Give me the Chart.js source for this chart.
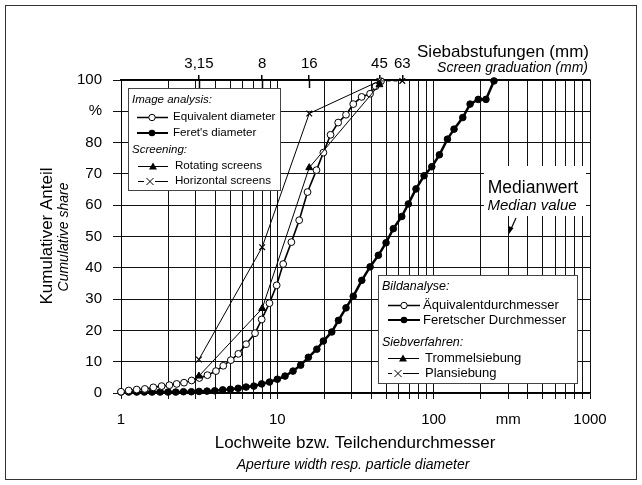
<!DOCTYPE html>
<html>
<head>
<meta charset="utf-8">
<script src="https://cdn.jsdelivr.net/npm/chart.js@4/dist/chart.umd.min.js"></script>
<style>
  body { margin: 0; background: #fff; }
  canvas { display: block; }
</style>
</head>
<body>
<canvas id="chart" width="642" height="485"></canvas>
<script>
// ---- data ----
const feretX = [1, 1.12, 1.26, 1.41, 1.58, 1.78, 2, 2.24, 2.51, 2.82, 3.16, 3.55, 3.98, 4.47, 5.01, 5.62, 6.31, 7.08, 7.94, 8.91,
  10, 11.2, 12.6, 14.1, 15.8, 17.9, 19.7, 22.3, 24.6, 27.5, 30.6, 34.7, 39.2, 44.3, 49.6, 55.2, 62.5, 68.9, 77.1, 86.8,
  97.3, 108.8, 122.5, 135, 153.5, 171, 193, 216, 243];
const feretY = [0.3, 0.3, 0.3, 0.3, 0.3, 0.3, 0.3, 0.3, 0.4, 0.4, 0.5, 0.6, 0.7, 1.0, 1.2, 1.5, 1.9, 2.2, 2.9, 3.5,
  4.4, 5.4, 7.0, 8.9, 11.4, 14.0, 16.6, 19.5, 23.2, 27.2, 30.9, 36, 40.3, 44, 48, 52.5, 56.4, 60.4, 65.2, 69.4,
  72.3, 76.1, 81.1, 84.3, 88, 92.3, 93.8, 93.8, 99.7];

const eqX = [1, 1.12, 1.26, 1.42, 1.61, 1.82, 2.04, 2.27, 2.53, 2.83, 3.17, 3.57, 4.05, 4.51, 5.04, 5.63, 6.31, 7.2, 7.94, 8.9,
  9.9, 10.9, 12.3, 13.8, 15.6, 17.8, 19.7, 21.9, 24.5, 27.5, 30.6, 34.6, 39.2, 42.5, 46];
const eqY = [0.4, 0.8, 1.1, 1.3, 1.8, 2.2, 2.5, 2.9, 3.3, 4.0, 4.8, 5.7, 7.0, 8.7, 10.5, 12.5, 15.6, 19.1, 23.5, 28.7,
  34.4, 41.2, 48.2, 55.2, 64.2, 71.2, 76.8, 82.5, 86.4, 88.9, 92.3, 94.6, 95.6, 98.0, 99.6];

const rotX = [3.15, 8, 16, 45];
const rotY = [5.4, 27, 72, 98.5];

const horX = [3.15, 8, 16, 45, 63];
const horY = [10.7, 46.6, 89.3, 99.7, 99.7];

// axis ticks
const xGrid = [1, 2, 3, 4, 5, 6, 7, 8, 9, 10, 20, 30, 40, 50, 60, 70, 80, 90, 100, 200, 300, 400, 500, 600, 700, 800, 900, 1000];
const xLabels = { 1: '1', 10: '10', 100: '100', 300: 'mm', 1000: '1000' };
const screenSizes = [3.15, 8, 16, 45, 63];
const screenLabels = ['3,15', '8', '16', '45', '63'];
const yGrid = [0, 10, 20, 30, 40, 50, 60, 70, 80, 90, 100];
const yLabels = { 90: '%' };

const FONT = "'Liberation Sans', Arial, sans-serif";
Chart.defaults.font.family = FONT;
Chart.defaults.color = '#000';

function pts(xs, ys) {
    return xs.map((x, i) => ({ x: x, y: ys[i] }));
}

// --------------- markers (used by the legends) -----------------------
function marker(ctx, kind, x, y) {
    ctx.save();
    ctx.strokeStyle = '#000';
    ctx.fillStyle = '#000';
    ctx.lineWidth = 1;
    ctx.beginPath();
    if (kind === 'open') {
        ctx.arc(x, y, 3.2, 0, Math.PI * 2);
        ctx.fillStyle = '#fff';
        ctx.fill();
        ctx.stroke();
    } else if (kind === 'dot') {
        ctx.arc(x, y, 3.3, 0, Math.PI * 2);
        ctx.fill();
    } else if (kind === 'tri') {
        ctx.moveTo(x, y - 4);
        ctx.lineTo(x + 4, y + 3);
        ctx.lineTo(x - 4, y + 3);
        ctx.closePath();
        ctx.fill();
    } else if (kind === 'cross') {
        ctx.moveTo(x - 3.5, y - 3.5); ctx.lineTo(x + 3.5, y + 3.5);
        ctx.moveTo(x + 3.5, y - 3.5); ctx.lineTo(x - 3.5, y + 3.5);
        ctx.stroke();
    }
    ctx.restore();
}

function sample(ctx, x0, x1, y, w, kind, mx) {
    ctx.save();
    ctx.strokeStyle = '#000';
    ctx.lineWidth = w;
    ctx.beginPath();
    if (kind === 'cross') {
        ctx.moveTo(x0, y); ctx.lineTo(mx - 6, y);
        ctx.moveTo(mx + 5, y); ctx.lineTo(x1, y);
    } else {
        ctx.moveTo(x0, y); ctx.lineTo(x1, y);
    }
    ctx.stroke();
    ctx.restore();
    marker(ctx, kind, mx, y);
}

function box(ctx, x, y, w, h, stroke) {
    ctx.save();
    ctx.fillStyle = '#fff';
    ctx.fillRect(x, y, w, h);
    if (stroke) {
        ctx.strokeStyle = '#444';
        ctx.lineWidth = 1;
        ctx.strokeRect(x + 0.5, y + 0.5, w, h);
    }
    ctx.restore();
}

function text(ctx, s, x, y, size, italic, align) {
    ctx.save();
    ctx.font = (italic ? 'italic ' : '') + size + 'px ' + FONT;
    ctx.fillStyle = '#000';
    ctx.textAlign = align || 'left';
    ctx.textBaseline = 'middle';
    ctx.fillText(s, x, y);
    ctx.restore();
}

// --------------- legends, notes, titles -----------------------
const decorations = {
    id: 'decorations',
    beforeDraw(chart) {
        const ctx = chart.ctx;
        ctx.save();
        ctx.fillStyle = '#fff';
        ctx.fillRect(0, 0, chart.width, chart.height);
        ctx.restore();
    },
    beforeDatasetsDraw(chart) {
        const ctx = chart.ctx;

        // screen ticks crossing the top border
        const top = chart.scales.x2;
        ctx.save();
        ctx.strokeStyle = '#000';
        ctx.lineWidth = 1.5;
        ctx.beginPath();
        screenSizes.slice(0, 3).forEach(v => {
            const px = Math.round(top.getPixelForValue(v)) + 0.5;
            ctx.moveTo(px, 80); ctx.lineTo(px, 88);
        });
        ctx.stroke();
        ctx.restore();

        // english legend
        box(ctx, 128, 88, 152, 102, true);
        text(ctx, 'Image analysis:', 132, 100, 11.5, true);
        sample(ctx, 137, 168, 117.5, 1.5, 'open', 152);
        text(ctx, 'Equivalent diameter', 173, 117, 11.6);
        sample(ctx, 137, 168, 133, 2, 'dot', 152);
        text(ctx, "Feret's diameter", 173, 133, 11.6);
        text(ctx, 'Screening:', 132, 150, 11.5, true);
        sample(ctx, 138, 168, 166.5, 1, 'tri', 153);
        text(ctx, 'Rotating screens', 175, 166, 11.6);
        sample(ctx, 138, 168, 181.5, 1, 'cross', 150);
        text(ctx, 'Horizontal screens', 175, 181, 11.6);

        // german legend
        box(ctx, 378, 275, 199, 108, true);
        text(ctx, 'Bildanalyse:', 382, 287, 12.5, true);
        sample(ctx, 388, 420, 305.5, 1.5, 'open', 404);
        text(ctx, '\u00c4quivalentdurchmesser', 423, 305, 13);
        sample(ctx, 388, 420, 320, 2, 'dot', 404);
        text(ctx, 'Feretscher Durchmesser', 423, 320, 13);
        text(ctx, 'Siebverfahren:', 382, 343, 12.5, true);
        sample(ctx, 388, 419, 358.5, 1, 'tri', 403);
        text(ctx, 'Trommelsiebung', 425, 358, 13);
        sample(ctx, 388, 419, 373.5, 1, 'cross', 398);
        text(ctx, 'Plansiebung', 425, 373, 13);

        // median note
        box(ctx, 484, 166, 102, 50, false);
        text(ctx, 'Medianwert', 533, 188, 17.5, false, 'center');
        text(ctx, 'Median value', 532, 206, 15, true, 'center');
        ctx.save();
        ctx.strokeStyle = '#000';
        ctx.fillStyle = '#000';
        ctx.lineWidth = 1.2;
        ctx.beginPath();
        ctx.moveTo(516, 218); ctx.lineTo(511, 229);
        ctx.stroke();
        ctx.beginPath();
        ctx.moveTo(509, 234); ctx.lineTo(508.5, 226); ctx.lineTo(513.5, 228);
        ctx.closePath();
        ctx.fill();
        ctx.restore();
    },
    afterDraw(chart) {
        const ctx = chart.ctx;
        // frame round the figure
        ctx.save();
        ctx.strokeStyle = '#333';
        ctx.lineWidth = 1;
        ctx.strokeRect(5.5, 5.5, 631, 474);
        ctx.restore();

        text(ctx, 'Siebabstufungen (mm)', 589, 52, 17, false, 'right');
        text(ctx, 'Screen graduation (mm)', 588, 68, 14, true, 'right');

        text(ctx, 'Lochweite bzw. Teilchendurchmesser', 355, 443, 17, false, 'center');
        text(ctx, 'Aperture width resp. particle diameter', 353, 465, 14, true, 'center');

        ctx.save();
        ctx.translate(47, 236);
        ctx.rotate(-Math.PI / 2);
        text(ctx, 'Kumulativer Anteil', 0, 0, 17, false, 'center');
        ctx.restore();
        ctx.save();
        ctx.translate(64, 237);
        ctx.rotate(-Math.PI / 2);
        text(ctx, 'Cumulative share', 0, 0, 14, true, 'center');
        ctx.restore();
    }
};

const ctx = document.getElementById('chart').getContext('2d');
const chart = new Chart(ctx, {
    type: 'scatter',
    data: {
        datasets: [
            {
                label: 'Horizontal screens',
                data: pts(horX, horY),
                showLine: true,
                borderColor: '#000',
                borderWidth: 1,
                pointStyle: 'crossRot',
                pointRadius: 4,
                pointBorderWidth: 1.2,
                pointBorderColor: '#000',
                segment: { borderDash: c => c.p0DataIndex === 3 ? [4, 3] : undefined },
                clip: false
            },
            {
                label: 'Rotating screens',
                data: pts(rotX, rotY),
                showLine: true,
                borderColor: '#000',
                borderWidth: 1,
                pointStyle: 'triangle',
                pointRadius: 4,
                pointBackgroundColor: '#000',
                pointBorderColor: '#000',
                pointBorderWidth: 1,
                clip: false
            },
            {
                label: 'Equivalent diameter',
                data: pts(eqX, eqY),
                showLine: true,
                borderColor: '#000',
                borderWidth: 1.6,
                pointStyle: 'circle',
                pointRadius: 3.4,
                pointBackgroundColor: '#fff',
                pointBorderColor: '#000',
                pointBorderWidth: 1,
                clip: false
            },
            {
                label: "Feret's diameter",
                data: pts(feretX, feretY),
                showLine: true,
                borderColor: '#000',
                borderWidth: 2.5,
                pointStyle: 'circle',
                pointRadius: 3.3,
                pointBackgroundColor: '#000',
                pointBorderColor: '#000',
                pointBorderWidth: 1,
                clip: false
            }
        ]
    },
    options: {
        responsive: false,
        animation: false,
        layout: { padding: { left: 0, right: 52, top: 0, bottom: 0 } },
        plugins: {
            legend: { display: false },
            tooltip: { enabled: false }
        },
        scales: {
            x: {
                type: 'logarithmic',
                position: 'bottom',
                min: 1,
                max: 1000,
                afterBuildTicks: s => { s.ticks = xGrid.map(v => ({ value: v })); },
                afterFit: s => { s.height = 92; },
                ticks: {
                    autoSkip: false,
                    maxRotation: 0,
                    padding: 12,
                    font: { size: 15 },
                    color: '#000',
                    callback: v => xLabels[v] || ''
                },
                grid: { color: '#111', lineWidth: 1, tickLength: 6 },
                border: { color: '#000', width: 1.5 }
            },
            x2: {
                type: 'logarithmic',
                position: 'top',
                min: 1,
                max: 1000,
                afterBuildTicks: s => { s.ticks = screenSizes.map(v => ({ value: v })); },
                afterFit: s => { s.height = 80; },
                ticks: {
                    autoSkip: false,
                    maxRotation: 0,
                    padding: 2,
                    font: { size: 15 },
                    color: '#000',
                    callback: (v, i) => screenLabels[i]
                },
                grid: { drawOnChartArea: false, color: '#000', lineWidth: 1.5, tickLength: 5 },
                border: { color: '#000', width: 1.5 }
            },
            y: {
                type: 'linear',
                min: 0,
                max: 100,
                afterBuildTicks: s => { s.ticks = yGrid.map(v => ({ value: v })); },
                afterFit: s => { s.width = 121; },
                ticks: {
                    padding: 11,
                    font: { size: 15 },
                    color: '#000',
                    callback: v => yLabels[v] || String(v)
                },
                grid: { color: '#111', lineWidth: 1, tickLength: 8 },
                border: { color: '#000', width: 1 }
            }
        }
    },
    plugins: [decorations]
});
</script>
</body>
</html>
